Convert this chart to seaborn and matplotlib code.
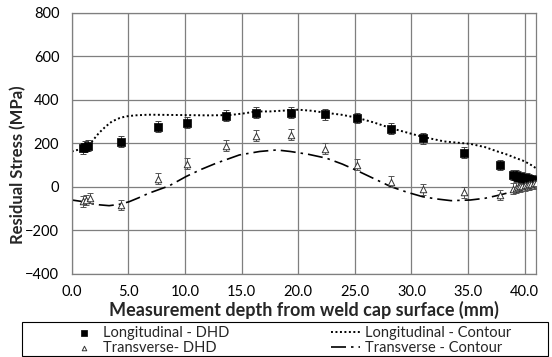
import numpy as np
import pandas as pd
import matplotlib
matplotlib.use("Agg")
import matplotlib.pyplot as plt
import seaborn as sns
from matplotlib.patches import Rectangle

# Longitudinal - DHD (squares)
long_x = [1.0, 1.2, 1.45, 4.35, 7.6, 10.2, 13.6, 16.3, 19.4, 22.4, 25.2, 28.2, 31.0, 34.6, 37.8,
          39.0, 39.2, 39.4, 39.6, 39.8, 40.0, 40.2, 40.4, 40.6, 40.8, 41.0]
long_y = [178, 184, 189, 207, 276, 295, 327, 341, 342, 333, 317, 267, 223, 157, 101,
          55, 52, 48, 45, 42, 40, 37, 35, 32, 30, 28]
# Transverse - DHD (triangles)
trans_x = [1.0, 1.25, 1.6, 4.35, 7.6, 10.2, 13.6, 16.3, 19.4, 22.4, 25.2, 28.2, 31.0, 34.6, 37.8,
           39.0, 39.2, 39.4, 39.6, 39.8, 40.0, 40.2, 40.4, 40.6, 40.8, 41.0]
trans_y = [-65, -60, -51, -83, 37, 106, 189, 235, 240, 175, 103, 25, -11, -25, -37,
           -8, -4, 0, 3, 6, 8, 10, 12, 14, 16, 18]
err = 25

# Contour results
lc_x = [0.0, 1.06, 1.8, 2.4, 3.0, 3.55, 4.2, 4.76, 5.6, 6.8, 8.5, 10.3, 12.0, 13.9, 15.2, 16.3, 17.5,
        18.8, 20.0, 21.2, 22.4, 23.8, 25.2, 26.7, 28.2, 29.6, 31.0, 32.9, 35.2, 36.5, 37.6, 38.5,
        39.2, 39.8, 40.3, 40.7, 41.0]
lc_y = [163, 178, 210, 248, 278, 301, 316, 324, 329, 332, 331, 330, 329, 330, 338, 347, 347,
        351, 355, 350, 341, 332, 318, 296, 270, 250, 230, 209, 198, 183, 163, 148,
        133, 122, 109, 97, 86]
tc_x = [0.0, 0.8, 1.5, 2.4, 3.3, 4.2, 5.06, 5.9, 6.8, 7.7, 8.6, 10.1, 11.4, 12.75, 14.8, 16.6,
        18.1, 19.3, 20.9, 22.5, 23.9, 25.2, 26.7, 28.2, 29.6, 31.0, 32.2, 33.5, 35.2, 36.5,
        37.8, 38.6, 39.4, 40.2, 41.0]
tc_y = [-60, -66, -75, -82, -86, -80, -68, -50, -29, -12, 5, 48, 80, 109, 147, 163,
        170, 163, 150, 132, 105, 75, 38, 1, -24, -45, -55, -63, -60, -52,
        -37, -26, -14, -6, 1]

sns.set_style("white")
plt.rcParams["font.family"] = ["Lato", "DejaVu Sans"]

fig = plt.figure(figsize=(5.52, 3.57), dpi=100)
ax = fig.add_axes([0.130, 0.2325, 0.841, 0.7315])

dfl = pd.DataFrame({"x": long_x, "y": long_y})
dft = pd.DataFrame({"x": trans_x, "y": trans_y})

ax.errorbar(long_x, long_y, yerr=err, fmt="none", ecolor="#444444", elinewidth=0.7,
            capsize=2.0, capthick=0.7, zorder=3)
ax.errorbar(trans_x, trans_y, yerr=err, fmt="none", ecolor="#555555", elinewidth=0.7,
            capsize=2.0, capthick=0.7, zorder=3)
sns.scatterplot(data=dfl, x="x", y="y", marker="s", s=28, color="black", edgecolor="black",
                linewidth=0.5, ax=ax, zorder=4, label="Longitudinal - DHD")
sns.scatterplot(data=dft, x="x", y="y", marker="^", s=22, facecolor="white", edgecolor="#333333",
                linewidth=0.7, ax=ax, zorder=4, label="Transverse- DHD")
sns.lineplot(x=lc_x, y=lc_y, color="black", lw=1.4, linestyle=(0, (1, 1.3)), sort=False,
             estimator=None, ax=ax, label="Longitudinal - Contour", zorder=2)
sns.lineplot(x=tc_x, y=tc_y, color="black", lw=1.2, linestyle=(0, (9, 3, 1.5, 3)), sort=False,
             estimator=None, ax=ax, label="Transverse - Contour", zorder=2)

ax.set_xlim(0, 41)
ax.set_ylim(-400, 800)
ax.set_xticks(np.arange(0, 41, 5))
ax.set_xticklabels([f"{v:.1f}" for v in np.arange(0, 41, 5)])
ax.set_yticks(np.arange(-400, 801, 200))
ax.tick_params(axis="both", length=0, labelsize=10.5, colors="black")
ax.tick_params(axis="x", pad=8)
ax.tick_params(axis="y", pad=9)
ax.grid(True, color="#7f7f7f", lw=0.9)
for s in ax.spines.values():
    s.set_color("#7f7f7f")
    s.set_linewidth(0.9)
ax.set_xlabel("Measurement depth from weld cap surface (mm)", fontsize=13, fontweight="bold",
              labelpad=1)
ax.set_ylabel("Residual Stress (MPa)", fontsize=12, fontweight="bold")
ax.yaxis.set_label_coords(-0.097, 0.418)

handles, labels = ax.get_legend_handles_labels()
ax.get_legend().remove()
leg = fig.legend(handles, labels, ncol=2, loc="center left",
                 bbox_to_anchor=(0.125, 0.046), fontsize=10.5, frameon=False,
                 handlelength=2.0, handletextpad=0.3, columnspacing=7.0, markerscale=0.7,
                 labelspacing=0.1, borderpad=0.0, borderaxespad=0.0)
fig.patches.append(Rectangle((0.04, 0.003), 0.953, 0.095, transform=fig.transFigure,
                             fill=False, edgecolor="black", lw=0.8))

fig.savefig("out.png", dpi=100)
